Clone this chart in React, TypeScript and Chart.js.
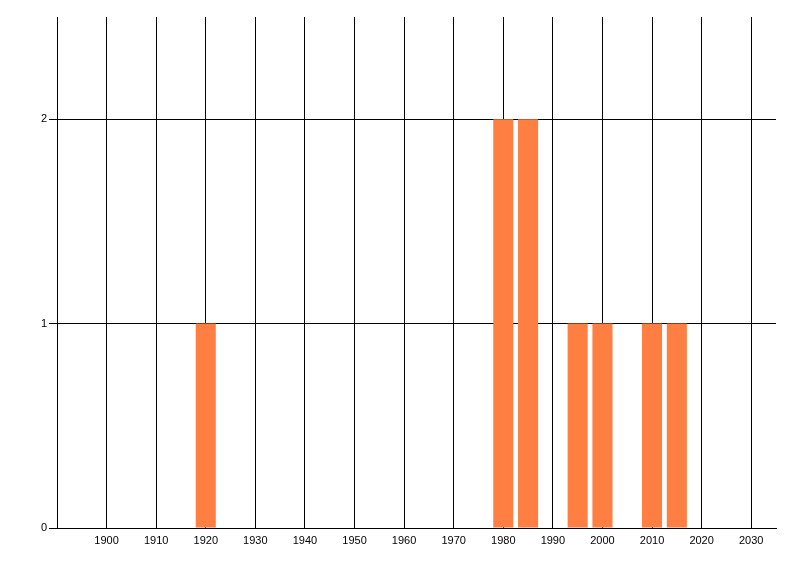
import React, { useEffect, useRef } from "react";
import { Chart, registerables } from "chart.js";

Chart.register(...registerables);

const years = [1920, 1980, 1985, 1995, 2000, 2010, 2015];
const counts = [1, 2, 2, 1, 1, 1, 1];
const xTickYears = [1900, 1910, 1920, 1930, 1940, 1950, 1960, 1970, 1980, 1990, 2000, 2010, 2020, 2030];
const yTickValues = [0, 1, 2];
const xMin = 1890;
const xMax = 2035;
const yMax = 2.5;

export default function App() {
  const ref = useRef<HTMLCanvasElement | null>(null);
  useEffect(() => {
    document.body.style.margin = "0";
    const font = { family: "'Liberation Sans', Arial, sans-serif", size: 11 };
    const chart = new Chart(ref.current as HTMLCanvasElement, {
      type: "bar",
      data: {
        datasets: [
          {
            data: years.map((y, i) => ({ x: y, y: counts[i] })),
            backgroundColor: "#FF7F43",
            borderWidth: 0,
            barPercentage: 0.81,
            categoryPercentage: 1,
          },
        ],
      },
      options: {
        responsive: false,
        animation: false,
        layout: { padding: { top: 17, right: 24, left: 0, bottom: 0 } },
        plugins: { legend: { display: false }, tooltip: { enabled: false } },
        scales: {
          x: {
            type: "linear",
            min: xMin,
            max: xMax,
            offset: false,
            afterBuildTicks: (axis: any) => {
              axis.ticks = xTickYears.map((v) => ({ value: v }));
            },
            afterFit: (s: any) => {
              s.height = 48;
            },
            grid: { color: "#000", lineWidth: 1, drawTicks: false, offset: false },
            border: { color: "#000", width: 1 },
            ticks: {
              color: "#000",
              font,
              padding: 6,
              maxRotation: 0,
              autoSkip: false,
              callback: (v: any) => String(v),
            },
          },
          y: {
            min: 0,
            max: yMax,
            afterBuildTicks: (axis: any) => {
              axis.ticks = yTickValues.map((v) => ({ value: v }));
            },
            afterFit: (s: any) => {
              s.width = 57;
            },
            grid: { color: "#000", lineWidth: 1, drawTicks: true, tickLength: 8 },
            border: { color: "#000", width: 1 },
            ticks: {
              color: "#000",
              font,
              padding: 2,
              callback: (v: any) => String(v),
            },
          },
        },
      },
    });
    return () => chart.destroy();
  }, []);
  return (
    <div style={{ width: 800, height: 576, background: "#fff" }}>
      <canvas ref={ref} width={800} height={576} style={{ display: "block" }} />
    </div>
  );
}
